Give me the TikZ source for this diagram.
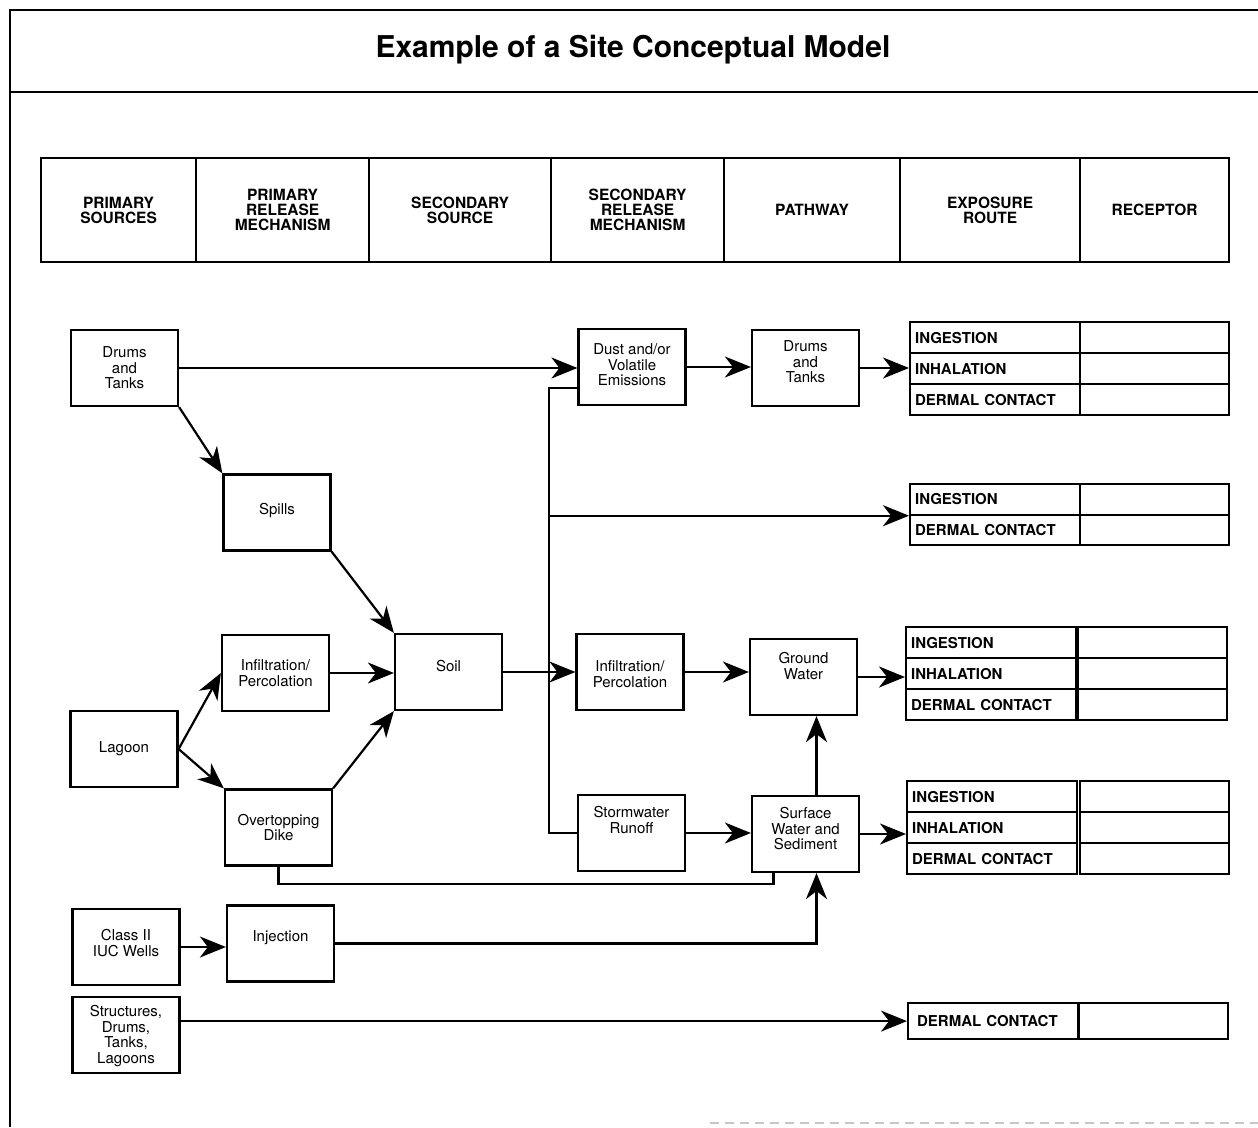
\documentclass[tikz,border=0pt]{standalone}
\usepackage{fontspec}
\setmainfont{TeX Gyre Heros}
\usetikzlibrary{arrows.meta}
\tikzset{
 box/.style={draw, line width=2.2pt, minimum width=107pt, minimum height=76pt, inner sep=0pt},
 txt/.style={align=center, font=\fontsize{15}{15.5}\selectfont, inner sep=0pt},
 hdr/.style={draw, line width=2.2pt, minimum height=104pt, minimum width=#1, anchor=north west, align=center, font=\bfseries\fontsize{15.5}{15}\selectfont, inner sep=0pt},
 cell/.style={draw, line width=2.2pt, minimum height=#1, text width=160pt, inner xsep=5pt, inner ysep=0pt, align=left, anchor=north west, font=\bfseries\fontsize{15}{15}\selectfont},
 rcell/.style={draw, line width=2.2pt, minimum height=#1, minimum width=149pt, inner sep=0pt, anchor=north west},
 arr/.style={line width=2.2pt, -{Stealth[length=26pt,width=21pt,inset=8pt]}},
 con/.style={line width=2.2pt},
}
\newcommand\mybox[5]{\node[box] (#1) at (#2,#3) {}; \node[txt] (#1t) at ([yshift=#4pt]#1.center) {#5};}
\begin{document}
\begin{tikzpicture}[x=1pt,y=-1pt]
\useasboundingbox (0,0) rectangle (1258,1127);
% frame
\draw[line width=2.4pt] (10,1127) -- (10,10) -- (1258,10);
\draw[line width=2.4pt] (10,92) -- (1258,92);
\draw[gray!45, line width=1.5pt, dash pattern=on 9pt off 6pt] (710,1123) -- (1258,1123);
\node[font=\bfseries\fontsize{30}{32}\selectfont] (title) at (633,50) {Example of a Site Conceptual Model};
% header
\node[hdr=155pt] (h1) at (40,157) {PRIMARY\\SOURCES};
\node[hdr=173pt] (h2) at (195,157) {PRIMARY\\RELEASE\\MECHANISM};
\node[hdr=182pt] (h3) at (368,157) {SECONDARY\\SOURCE};
\node[hdr=173pt] (h4) at (550,157) {SECONDARY\\RELEASE\\MECHANISM};
\node[hdr=176pt] (h5) at (723,157) {PATHWAY};
\node[hdr=180pt] (h6) at (899,157) {EXPOSURE\\ROUTE};
\node[hdr=149pt] (h7) at (1079,157) {RECEPTOR};
% boxes
\mybox{src}{124.5}{368}{0}{Drums\\and\\Tanks}
\mybox{spills}{277}{512.5}{2}{Spills}
\mybox{infa}{275.5}{673}{0}{Infiltration/\\Percolation}
\mybox{lagoon}{124}{749}{0}{Lagoon}
\mybox{dike}{278.5}{827.5}{0}{Overtopping\\Dike}
\mybox{soil}{448.5}{672}{6}{Soil}
\mybox{dust}{632}{367}{2}{Dust and/or\\Volatile\\Emissions}
\mybox{drums}{805.5}{368}{6}{Drums\\and\\Tanks}
\mybox{infb}{630}{672}{-2}{Infiltration/\\Percolation}
\mybox{gw}{803.5}{677}{11}{Ground\\Water}
\mybox{storm}{631.5}{833}{13}{Stormwater\\Runoff}
\mybox{sw}{805.5}{834}{5}{Surface\\Water and\\Sediment}
\mybox{wells}{126}{947}{4}{Class II\\IUC Wells}
\mybox{inj}{280.5}{943.5}{6}{Injection}
\mybox{struct}{126}{1035}{-1}{Structures,\\Drums,\\Tanks,\\Lagoons}
% tables
\node[cell=31pt] (t1a) at (909,321) {INGESTION};
\node[cell=31pt] (t1b) at (909,352) {INHALATION};
\node[cell=31pt] (t1c) at (909,383) {DERMAL CONTACT};
\node[rcell=31pt] (r1a) at (1079,321) {};
\node[rcell=31pt] (r1b) at (1079,352) {};
\node[rcell=31pt] (r1c) at (1079,383) {};
\node[cell=30.5pt] (t2a) at (909,483) {INGESTION};
\node[cell=30.5pt] (t2b) at (909,513.5) {DERMAL CONTACT};
\node[rcell=30.5pt] (r2a) at (1079,483) {};
\node[rcell=30.5pt] (r2b) at (1079,513.5) {};
\node[cell=31pt] (t3a) at (905,626) {INGESTION};
\node[cell=31pt] (t3b) at (905,657) {INHALATION};
\node[cell=31pt] (t3c) at (905,688) {DERMAL CONTACT};
\node[rcell=31pt] (r3a) at (1077,626) {};
\node[rcell=31pt] (r3b) at (1077,657) {};
\node[rcell=31pt] (r3c) at (1077,688) {};
\node[cell=31pt] (t4a) at (906,780) {INGESTION};
\node[cell=31pt] (t4b) at (906,811) {INHALATION};
\node[cell=31pt] (t4c) at (906,842) {DERMAL CONTACT};
\node[rcell=31pt] (r4a) at (1079,780) {};
\node[rcell=31pt] (r4b) at (1079,811) {};
\node[rcell=31pt] (r4c) at (1079,842) {};
\node[cell=36pt] (t5a) at (907,1002) {\hspace*{4pt}DERMAL CONTACT};
\node[rcell=36pt] (r5a) at (1078,1002) {};
% connectors
\coordinate (jx) at (549,0);
\draw[arr] (src.east) -- (src.east -| dust.west);
\draw[arr] (dust.east) -- (dust.east -| drums.west);
\draw[arr] (drums.east) -- (drums.east -| t1b.west);
\draw[arr] (src.south east) -- (spills.north west);
\draw[arr] (spills.south east) -- (soil.north west);
\draw[arr] (lagoon.east) -- (infa.west);
\draw[arr] (lagoon.east) -- (dike.north west);
\draw[arr] (infa.east) -- (infa.east -| soil.west);
\draw[arr] (dike.north east) -- (soil.south west);
\draw[arr] (soil.east) -- (soil.east -| infb.west);
\draw[con] ([yshift=-21pt]dust.west) -- ([yshift=-21pt]dust.west -| jx) -- (storm.west -| jx) -- (storm.west);
\draw[arr] (t2a.south west -| jx) -- (t2a.south west);
\draw[arr] (infb.east) -- (infb.east -| gw.west);
\draw[arr] (gw.east) -- (gw.east -| t3b.west);
\draw[arr] (storm.east) -- (storm.east -| sw.west);
\draw[arr] ([xshift=11pt]sw.north) -- ([xshift=11pt]sw.north |- gw.south);
\draw[arr] (sw.east) -- (sw.east -| t4b.west);
\draw[con] (dike.south) -- ++(0,17) -| ([xshift=-32pt]sw.south);
\draw[arr] (inj.east) -| ([xshift=11pt]sw.south);
\draw[arr] (wells.east) -- (wells.east -| inj.west);
\draw[arr] (t5a.west -| struct.east) -- (t5a.west);
\end{tikzpicture}
\end{document}
